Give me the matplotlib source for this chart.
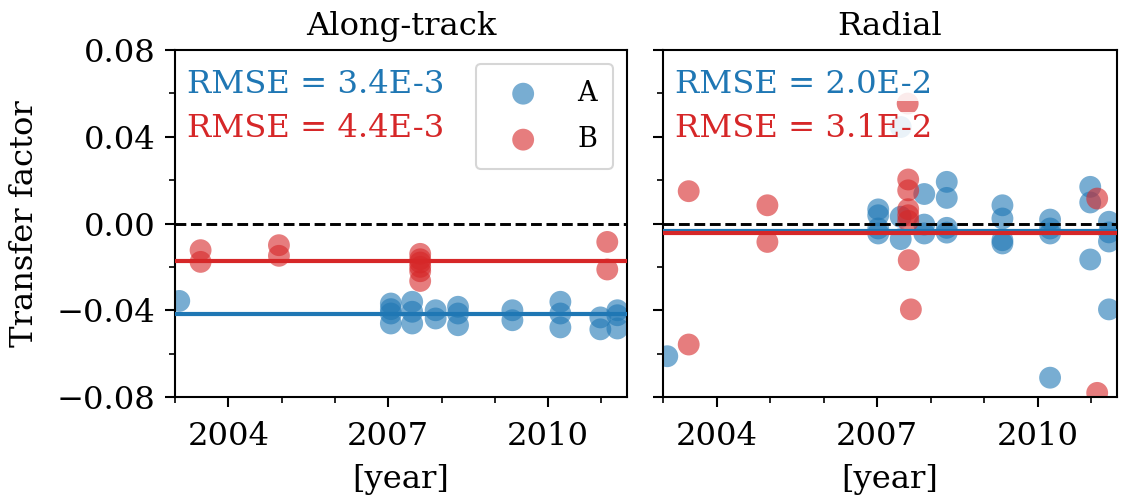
import matplotlib
matplotlib.use("Agg")
import matplotlib.pyplot as plt
from matplotlib.ticker import MultipleLocator, FuncFormatter

plt.rcParams['font.family'] = ['DejaVu Serif']
plt.rcParams['axes.linewidth'] = 1.0

# ---- data -------------------------------------------------------------
# Along-track transfer factors
at_dates_A = [2003.08,
              2007.05, 2007.05, 2007.05, 2007.05,
              2007.45, 2007.45, 2007.45,
              2007.89, 2007.89,
              2008.31, 2008.31, 2008.31,
              2009.33, 2009.33,
              2010.23, 2010.23, 2010.23,
              2010.98, 2010.98,
              2011.30, 2011.30, 2011.30]
at_vals_A = [-0.0357,
             -0.0369, -0.0395, -0.0415, -0.0461,
             -0.0361, -0.0407, -0.0461,
             -0.0400, -0.0438,
             -0.0384, -0.0415, -0.0469,
             -0.0400, -0.0446,
             -0.0361, -0.0415, -0.0479,
             -0.0433, -0.0488,
             -0.0400, -0.0423, -0.0484]
at_dates_B = [2003.48, 2003.48, 2004.95, 2004.95,
              2007.60, 2007.60, 2007.60, 2007.60, 2007.60, 2007.60,
              2011.11, 2011.11]
at_vals_B = [-0.0123, -0.0177, -0.0100, -0.0149,
             -0.0140, -0.0165, -0.0180, -0.0200, -0.0220, -0.0265,
             -0.0085, -0.0212]

# Radial transfer factors
rad_dates_A = [2003.08,
               2007.02, 2007.02, 2007.02, 2007.02,
               2007.44, 2007.44, 2007.44,
               2007.88, 2007.88, 2007.88,
               2008.30, 2008.30, 2008.30, 2008.30,
               2009.34, 2009.34, 2009.34, 2009.34,
               2010.23, 2010.23, 2010.23, 2010.23,
               2010.98, 2010.98, 2010.98,
               2011.33, 2011.33, 2011.33, 2011.33]
rad_vals_A = [-0.0612,
              0.0065, 0.0038, -0.0023, -0.0046,
              0.0445, 0.0031, -0.0072,
              0.0136, -0.0005, -0.0046,
              0.0192, 0.0118, -0.0020, -0.0042,
              0.0084, 0.0023, -0.0077, -0.0092,
              0.0018, -0.0023, -0.0046, -0.0711,
              0.0169, 0.0097, -0.0166,
              0.0008, -0.0041, -0.0083, -0.0396]
rad_dates_B = [2003.48, 2003.48, 2004.95, 2004.95,
               2007.57, 2007.58, 2007.58, 2007.58, 2007.58, 2007.58, 2007.59, 2007.63,
               2011.11, 2011.11]
rad_vals_B = [0.0149, -0.0558, 0.0084, -0.0085,
              0.0553, 0.0203, 0.0153, 0.0066, 0.0038, 0.0012, -0.0169, -0.0396,
              0.0115, -0.0781]

# fitted levels and error statistics
at_level_A, at_level_B = -0.0419, -0.0174
rad_level_A, rad_level_B = -0.0033, -0.0042
at_rmse = ['RMSE = 3.4E-3', 'RMSE = 4.4E-3']
rad_rmse = ['RMSE = 2.0E-2', 'RMSE = 3.1E-2']

titles = ['Along-track', 'Radial']
labels = ['A', 'B']
year_ticks = [2004, 2007, 2010]

# ---- figure -----------------------------------------------------------
BLUE, RED = '#1f77b4', '#d62728'
FS = 15.5

fig = plt.figure(figsize=(7.5, 10 / 3), dpi=150)
ax1 = fig.add_axes([175 / 1125, 103 / 500, 452 / 1125, 347 / 500])
ax2 = fig.add_axes([663 / 1125, 103 / 500, 454 / 1125, 347 / 500], sharey=ax1)

panels = [
    (ax1, at_dates_A, at_vals_A, at_dates_B, at_vals_B, at_level_A, at_level_B, at_rmse),
    (ax2, rad_dates_A, rad_vals_A, rad_dates_B, rad_vals_B, rad_level_A, rad_level_B, rad_rmse),
]

for i, (ax, dA, vA, dB, vB, lA, lB, rmse) in enumerate(panels):
    ax.scatter(dA, vA, s=110, color=BLUE, alpha=0.6, edgecolors='none',
               label=labels[0], zorder=2)
    ax.scatter(dB, vB, s=110, color=RED, alpha=0.6, edgecolors='none',
               label=labels[1], zorder=2)
    ax.axhline(0, color='black', lw=1.4, ls='--', zorder=3)
    ax.axhline(lA, color=BLUE, lw=2.0, zorder=3)
    ax.axhline(lB, color=RED, lw=2.0, zorder=3)

    for txt, col, yb in zip(rmse, [BLUE, RED], [0.876, 0.749]):
        ax.text(0.026, yb, txt, color=col, fontsize=FS, va='baseline',
                transform=ax.transAxes, zorder=4,
                bbox=dict(facecolor='white', alpha=0.85, edgecolor='none', pad=0.5))

    ax.set_title(titles[i], fontsize=FS, pad=7)
    ax.set_xlabel('[year]', fontsize=FS, labelpad=6)
    ax.set_xlim(2003.0, 2011.48)
    ax.set_ylim(-0.08, 0.08)
    ax.set_xticks(year_ticks)
    ax.xaxis.set_minor_locator(MultipleLocator(1))
    ax.yaxis.set_major_locator(MultipleLocator(0.04))
    ax.yaxis.set_minor_locator(MultipleLocator(0.02))
    ax.tick_params(which='major', labelsize=FS, length=5.0, width=1.0)
    ax.tick_params(axis='x', which='major', pad=6.5)
    ax.tick_params(which='minor', length=3.0, width=0.8)

ax1.yaxis.set_major_formatter(FuncFormatter(lambda v, p: f"{v:.2f}".replace('-', '\u2212')))
ax1.tick_params(axis='y', which='major', pad=4.5)
ax1.set_ylabel('Transfer factor', fontsize=FS, labelpad=8)
ax2.tick_params(labelleft=False)

leg = ax1.legend(loc='upper right', fontsize=13, handlelength=2.3,
                 handletextpad=0.85, borderpad=0.6, labelspacing=0.7)
leg.get_frame().set_linewidth(1.0)
leg.set_zorder(5)

fig.savefig('out.png', dpi=150)
